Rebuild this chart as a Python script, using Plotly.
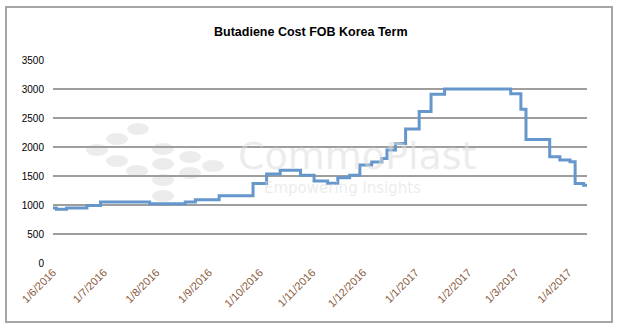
import plotly.graph_objects as go

# Change points (date of change, new value)
dates = ["2016-06-01", "2016-06-03", "2016-06-09", "2016-06-21", "2016-06-29",
         "2016-07-28", "2016-08-18", "2016-08-24", "2016-09-07", "2016-09-27",
         "2016-10-05", "2016-10-13", "2016-10-25", "2016-11-02", "2016-11-10",
         "2016-11-16", "2016-11-23", "2016-11-29", "2016-12-06", "2016-12-12",
         "2016-12-15", "2016-12-20", "2016-12-26", "2017-01-03", "2017-01-10",
         "2017-01-18", "2017-02-26", "2017-03-04", "2017-03-07", "2017-03-21",
         "2017-03-27", "2017-04-02", "2017-04-05", "2017-04-10", "2017-04-12"]
values = [950, 925, 950, 990, 1050,
          1020, 1050, 1090, 1160, 1370,
          1535, 1600, 1515, 1415, 1375,
          1470, 1515, 1690, 1740, 1800,
          1950, 2060, 2310, 2610, 2910,
          3000, 2920, 2650, 2130, 1830,
          1775, 1745, 1370, 1340, 1320]

title = "Butadiene Cost FOB Korea Term"
y_ticks = [0, 500, 1000, 1500, 2000, 2500, 3000, 3500]
x_ticks = ["2016-06-01", "2016-07-01", "2016-08-01", "2016-09-01", "2016-10-01",
           "2016-11-01", "2016-12-01", "2017-01-01", "2017-02-01", "2017-03-01",
           "2017-04-01"]
x_tick_labels = ["1/6/2016", "1/7/2016", "1/8/2016", "1/9/2016", "1/10/2016",
                 "1/11/2016", "1/12/2016", "1/1/2017", "1/2/2017", "1/3/2017",
                 "1/4/2017"]

W, H = 620, 328
ML, MR, MT, MB = 53, 33, 60, 65
PW, PH = W - ML - MR, H - MT - MB

def px(x):
    return (x - ML) / PW

def py(y):
    return (H - MB - y) / PH

fig = go.Figure()
fig.add_trace(go.Scatter(
    x=dates, y=values, mode="lines", line_shape="hv",
    line=dict(color="#6596cc", width=3), showlegend=False, hoverinfo="skip"))

shapes = []
# outer chart border
shapes.append(dict(type="rect", xref="paper", yref="paper",
                   x0=px(6), x1=px(612), y0=py(322), y1=py(7),
                   line=dict(color="#a6a6a6", width=2), layer="below"))
# watermark dots
dots = [(97, 150), (117, 139), (138, 129), (117, 161), (137, 171), (163, 149),
        (163, 164), (163, 180), (163, 196), (190, 157), (190, 173), (213, 166)]
for cx, cy in dots:
    shapes.append(dict(type="circle", xref="paper", yref="paper",
                       x0=px(cx - 11), x1=px(cx + 11), y0=py(cy + 6), y1=py(cy - 6),
                       fillcolor="#ececec", line=dict(width=0), layer="below"))

annotations = [
    dict(text="<b>" + title + "</b>", xref="paper", yref="paper",
         x=px(311), y=py(32), showarrow=False, xanchor="center", yanchor="middle",
         font=dict(family="Liberation Sans", size=12.5, color="#000000")),
    dict(text="CommoPlast", xref="paper", yref="paper", x=px(236), y=py(156),
         showarrow=False, xanchor="left", yanchor="middle",
         font=dict(family="DejaVu Sans", size=38, color="rgba(220,220,220,0.55)")),
    dict(text="Empowering Insights", xref="paper", yref="paper", x=px(262), y=py(188),
         showarrow=False, xanchor="left", yanchor="middle",
         font=dict(family="DejaVu Sans", size=15, color="rgba(220,220,220,0.55)")),
]

fig.update_layout(
    width=W, height=H,
    margin=dict(l=ML, r=MR, t=MT, b=MB, pad=0),
    paper_bgcolor="white", plot_bgcolor="rgba(0,0,0,0)",
    shapes=shapes, annotations=annotations,
    font=dict(family="Liberation Sans", size=10, color="#000000"),
)
fig.update_xaxes(
    type="date", range=["2016-06-01", "2017-04-12"],
    tickvals=x_ticks, ticktext=x_tick_labels, tickangle=-45,
    tickfont=dict(family="Liberation Sans", size=11, color="#8a5a3c"),
    showgrid=False, zeroline=False, showline=False, ticks="",
)
fig.update_yaxes(
    range=[0, 3500], tickvals=y_ticks, ticks="",
    showgrid=True, gridcolor="#9e9e9e", gridwidth=2, zeroline=False,
    showline=False, ticklabelstandoff=8,
    tickfont=dict(family="Liberation Sans", size=10, color="#000000"),
)

fig.write_html("out.html")
